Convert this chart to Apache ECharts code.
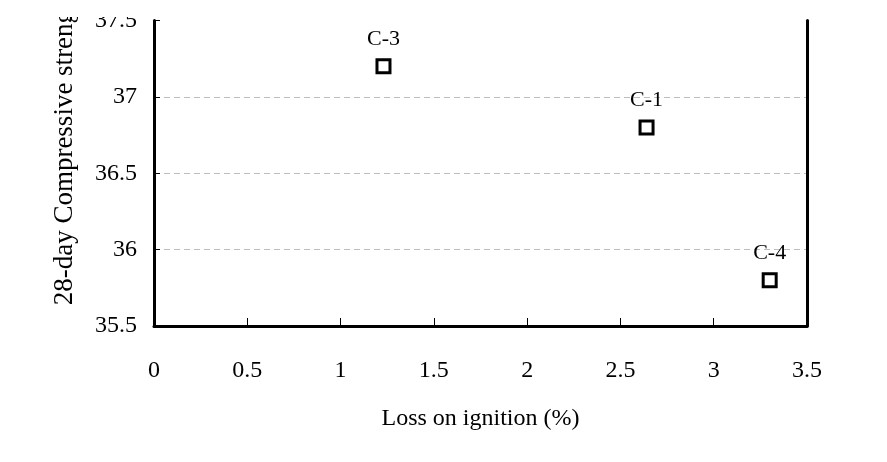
<!DOCTYPE html>
<html>
<head>
<meta charset="utf-8">
<script src="https://cdn.jsdelivr.net/npm/echarts@6/dist/echarts.min.js"></script>
<style>
html,body{margin:0;padding:0;background:#fff;}
#chart{width:887px;height:462px;}
</style>
</head>
<body>
<div id="chart"></div>
<script>
var sampleNames = ['C-3', 'C-1', 'C-4'];
var lossOnIgnition = [1.23, 2.64, 3.30];
var compressiveStrength = [37.2, 36.8, 35.8];
var xTicks = [0, 0.5, 1, 1.5, 2, 2.5, 3, 3.5];
var yTicks = [35.5, 36, 36.5, 37, 37.5];

var points = sampleNames.map(function (n, i) {
  return { name: n, value: [lossOnIgnition[i], compressiveStrength[i]] };
});

var font = 'Liberation Serif, Times New Roman, serif';
var chart = echarts.init(document.getElementById('chart'), null, { renderer: 'canvas' });
chart.setOption({
  backgroundColor: '#fff',
  animation: false,
  grid: { left: 154, right: 80, top: 20.5, bottom: 136, containLabel: false, outerBoundsMode: 'none' },
  xAxis: {
    type: 'value', min: xTicks[0], max: xTicks[xTicks.length - 1], interval: 0.5,
    name: 'Loss on ignition (%)', nameLocation: 'middle', nameGap: 81,
    nameTextStyle: { fontFamily: font, fontSize: 24, color: '#000' },
    axisLine: { show: true, lineStyle: { color: '#000', width: 3 } },
    axisTick: { show: true, inside: true, length: 8, lineStyle: { color: '#000', width: 1 } },
    axisLabel: { fontFamily: font, fontSize: 24, color: '#000', margin: 33 },
    splitLine: { show: false }
  },
  yAxis: [{
    type: 'value', min: yTicks[0], max: yTicks[yTicks.length - 1], interval: 0.5,
    name: '28-day Compressive strength (MPa)', nameLocation: 'middle', nameGap: 76,
    nameTextStyle: { fontFamily: font, fontSize: 27, color: '#000', padding: [0, 0, 0, 128] },
    axisLine: { show: true, lineStyle: { color: '#000', width: 3 } },
    axisTick: { show: true, inside: true, length: 6, lineStyle: { color: '#000', width: 1 } },
    axisLabel: { fontFamily: font, fontSize: 24, color: '#000', margin: 17 },
    splitLine: { show: true, showMaxLine: false, showMinLine: false, lineStyle: { color: '#bdbdbd', type: [6, 4], width: 1 } }
  }, {
    type: 'value', position: 'right', min: yTicks[0], max: yTicks[yTicks.length - 1], interval: 0.5,
    axisLine: { show: true, lineStyle: { color: '#000', width: 3 } },
    axisTick: { show: false }, axisLabel: { show: false }, splitLine: { show: false }
  }],
  series: [{
    type: 'scatter',
    data: points,
    symbol: 'rect', symbolSize: 13,
    itemStyle: { color: '#fff', borderColor: '#000', borderWidth: 3, opacity: 1 },
    label: {
      show: true, position: 'top', distance: 8,
      formatter: function (p) { return p.name; },
      fontFamily: font, fontSize: 22, color: '#000'
    }
  }],
  graphic: [{
    type: 'rect', left: 0, top: 0, z: 1000,
    shape: { width: 887, height: 17 },
    style: { fill: '#fff' }
  }]
});
</script>
</body>
</html>
